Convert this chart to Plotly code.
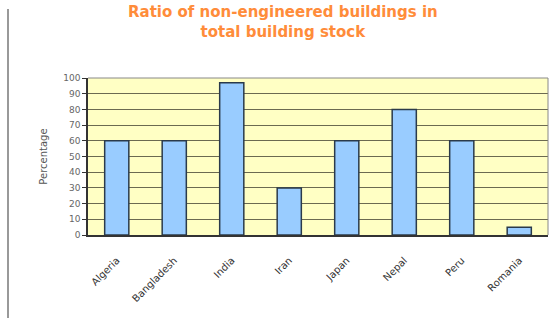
import plotly.graph_objects as go

countries = ["Algeria", "Bangladesh", "India", "Iran", "Japan", "Nepal", "Peru", "Romania"]
values = [60, 60, 97, 30, 60, 80, 60, 5]
y_ticks = list(range(0, 101, 10))

W, H = 552, 322
L, R, T, B = 88, 4, 78, 87
ph = H - T - B
pw = W - L - R

fig = go.Figure(go.Bar(
    x=countries, y=values,
    marker=dict(color="#99CCFF", line=dict(color="#2a3a4a", width=1.5)),
    width=0.42,
))

fig.update_layout(
    width=W, height=H,
    margin=dict(l=L, r=R, t=T, b=B),
    paper_bgcolor="white",
    plot_bgcolor="#FFFFC4",
    showlegend=False,
    annotations=[dict(
        text="Ratio of non-engineered buildings in<br>total building stock",
        font=dict(family="DejaVu Sans", size=15, color="#FF8C3A", weight="bold"),
        xref="paper", yref="paper",
        x=(283 - L) / pw, xanchor="center",
        y=(H - B - 1) / ph, yanchor="top",
        showarrow=False, align="center",
    )],
    xaxis=dict(
        showgrid=False, showline=True, linecolor="#333", linewidth=1.5,
        tickangle=-45, tickfont=dict(family="DejaVu Sans", size=10, color="#333"),
        ticks="", mirror=False, ticklabelstandoff=14,
    ),
    yaxis=dict(
        range=[0, 100], tickvals=y_ticks, showgrid=True, gridcolor="#6b6a50",
        gridwidth=1, showline=True, linecolor="#333", linewidth=1.5,
        ticks="outside", ticklen=4, tickcolor="#333",
        tickfont=dict(family="DejaVu Sans", size=9, color="#666"),
        title=dict(text="Percentage", font=dict(family="DejaVu Sans", size=10, color="#555"), standoff=14),
        zeroline=False,
    ),
    shapes=[
        dict(type="line", xref="paper", yref="paper",
             x0=(8 - L) / pw, x1=(8 - L) / pw,
             y0=(H - B - 9) / ph, y1=(H - B - 318) / ph,
             line=dict(color="#999", width=2)),
        dict(type="line", xref="paper", yref="paper",
             x0=1, x1=1, y0=0, y1=1, line=dict(color="#888", width=1)),
        dict(type="line", xref="paper", yref="paper",
             x0=0, x1=1, y0=1, y1=1, line=dict(color="#888", width=1)),
    ],
)

fig.write_html("out.html")
